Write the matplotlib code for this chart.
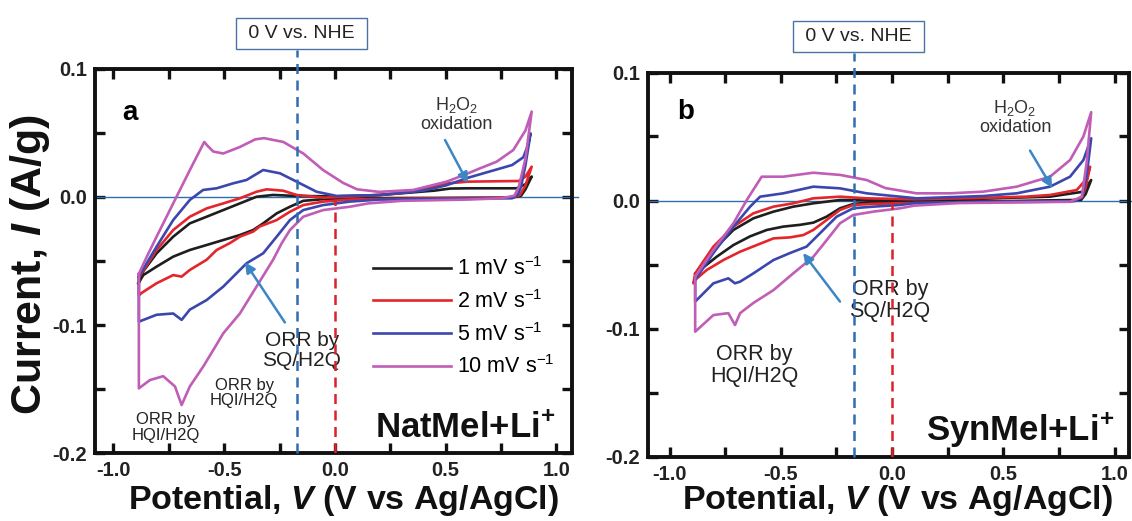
import matplotlib.pyplot as plt
import matplotlib.transforms as mtransforms
from matplotlib.ticker import MultipleLocator

plt.rcParams['font.family'] = ['Liberation Sans', 'DejaVu Sans']
plt.rcParams['mathtext.fontset'] = 'custom'
plt.rcParams['mathtext.rm'] = 'Liberation Sans'
plt.rcParams['mathtext.it'] = 'Liberation Sans:italic'
plt.rcParams['mathtext.bf'] = 'Liberation Sans:bold'
plt.rcParams['mathtext.bfit'] = 'Liberation Sans:italic:bold'

RATES = ['1', '2', '5', '10']
COLORS = ['#1e1e1e', '#e3262b', '#3b47ad', '#c05db6']
NHE_V = -0.172          # 0 V vs NHE on the Ag/AgCl scale
ZERO_COLOR = '#2e6fb0'
RED_DASH = '#d8232a'
ARROW = '#3d86c6'

# ---- panel a : NatMel + Li+  (V vs Ag/AgCl, A/g) ----
nat_1_fwd = [(-0.887, -0.0674), (-0.865, -0.058), (-0.805, -0.044), (-0.73, -0.031), (-0.655, -0.0206),
             (-0.579, -0.0154), (-0.504, -0.0102), (-0.429, -0.005), (-0.354, 0.0002), (-0.279, 0.0016),
             (-0.173, 0.0008), (0.0, 0.0005), (0.2, 0.0015), (0.45, 0.005), (0.52, 0.0066), (0.6, 0.0068),
             (0.82, 0.0068), (0.86, 0.010), (0.888, 0.016)]
nat_1_rev = [(0.888, 0.016), (0.86, 0.006), (0.84, 0.001), (0.8, -0.0005), (0.4, -0.0008), (0.068, -0.001),
             (-0.053, -0.0017), (-0.143, -0.003), (-0.203, -0.0076), (-0.263, -0.0128), (-0.324, -0.0206),
             (-0.369, -0.0258), (-0.429, -0.0297), (-0.504, -0.0336), (-0.579, -0.0375), (-0.655, -0.0414),
             (-0.73, -0.0466), (-0.805, -0.0544), (-0.865, -0.061), (-0.887, -0.0674)]
nat_2_fwd = [(-0.885, -0.063), (-0.805, -0.0414), (-0.73, -0.0258), (-0.655, -0.0154), (-0.579, -0.0089),
             (-0.504, -0.005), (-0.429, -0.001), (-0.354, 0.0041), (-0.308, 0.006), (-0.233, 0.0049),
             (-0.173, 0.0016), (-0.053, -0.0005), (0.1, 0.0005), (0.3, 0.003), (0.4, 0.006), (0.5, 0.0105),
             (0.6, 0.012), (0.83, 0.0125), (0.86, 0.016), (0.888, 0.0237)]
nat_2_rev = [(0.888, 0.0237), (0.86, 0.009), (0.835, 0.0016), (0.8, -0.0005), (0.5, -0.001), (0.2, -0.0015),
             (0.068, -0.002), (-0.053, -0.0036), (-0.143, -0.0063), (-0.203, -0.0115), (-0.263, -0.018),
             (-0.339, -0.023), (-0.369, -0.027), (-0.429, -0.031), (-0.474, -0.036), (-0.534, -0.0414),
             (-0.579, -0.049), (-0.655, -0.057), (-0.692, -0.0622), (-0.73, -0.061), (-0.805, -0.0674),
             (-0.873, -0.075), (-0.885, -0.077), (-0.885, -0.063)]
nat_5_fwd = [(-0.885, -0.062), (-0.805, -0.0388), (-0.73, -0.018), (-0.655, -0.0023), (-0.595, 0.0055),
             (-0.534, 0.0068), (-0.459, 0.0107), (-0.399, 0.0133), (-0.324, 0.0211), (-0.248, 0.0185),
             (-0.173, 0.012), (-0.083, 0.0041), (0.008, 0.0008), (0.2, 0.0015), (0.4, 0.005), (0.5, 0.009),
             (0.6, 0.015), (0.7, 0.020), (0.8, 0.025), (0.85, 0.031), (0.87, 0.040), (0.883, 0.0497)]
nat_5_rev = [(0.883, 0.0497), (0.86, 0.025), (0.84, 0.008), (0.826, 0.002), (0.8, -0.001), (0.5, -0.0015),
             (0.2, -0.002), (0.068, -0.0036), (-0.053, -0.0063), (-0.143, -0.0102), (-0.203, -0.018),
             (-0.263, -0.031), (-0.324, -0.044), (-0.399, -0.0518), (-0.444, -0.0596), (-0.504, -0.070),
             (-0.579, -0.0805), (-0.655, -0.088), (-0.692, -0.096), (-0.73, -0.091), (-0.805, -0.092),
             (-0.885, -0.0974), (-0.885, -0.062)]
nat_10_fwd = [(-0.885, -0.060), (-0.85, -0.047), (-0.805, -0.031), (-0.73, -0.005), (-0.655, 0.021),
              (-0.59, 0.043), (-0.575, 0.040), (-0.549, 0.0355), (-0.504, 0.034), (-0.43, 0.039),
              (-0.36, 0.045), (-0.32, 0.046), (-0.233, 0.043), (-0.143, 0.034), (-0.053, 0.021),
              (0.037, 0.011), (0.1, 0.006), (0.2, 0.004), (0.354, 0.0055), (0.504, 0.012), (0.58, 0.017),
              (0.655, 0.0224), (0.73, 0.0276), (0.805, 0.0367), (0.86, 0.052), (0.888, 0.0667)]
nat_10_rev = [(0.888, 0.0667), (0.86, 0.030), (0.83, 0.008), (0.81, 0.001), (0.75, -0.001), (0.6, -0.002),
              (0.3, -0.003), (0.15, -0.005), (0.068, -0.0076), (-0.053, -0.0102), (-0.143, -0.0154),
              (-0.203, -0.0258), (-0.24, -0.036), (-0.279, -0.049), (-0.354, -0.070), (-0.429, -0.091),
              (-0.504, -0.1065), (-0.549, -0.1195), (-0.595, -0.1326), (-0.655, -0.148), (-0.692, -0.1625),
              (-0.722, -0.148), (-0.775, -0.140), (-0.835, -0.143), (-0.885, -0.1495), (-0.885, -0.060)]

# ---- panel b : SynMel + Li+ ----
syn_1_fwd = [(-0.885, -0.061), (-0.803, -0.0387), (-0.713, -0.023), (-0.623, -0.0139), (-0.533, -0.0087),
             (-0.444, -0.0048), (-0.354, -0.0022), (-0.234, 0.0004), (-0.114, 0.0004), (0.3, 0.001),
             (0.71, 0.003), (0.86, 0.0069), (0.895, 0.016)]
syn_1_rev = [(0.895, 0.016), (0.87, 0.005), (0.85, 0.0005), (0.5, -0.0005), (0.036, -0.0006),
             (-0.084, -0.0013), (-0.174, -0.0027), (-0.234, -0.0061), (-0.294, -0.0126), (-0.354, -0.0173),
             (-0.413, -0.019), (-0.489, -0.0204), (-0.563, -0.023), (-0.638, -0.028), (-0.713, -0.0348),
             (-0.788, -0.0439), (-0.863, -0.0543), (-0.885, -0.061)]
syn_2_fwd = [(-0.885, -0.057), (-0.803, -0.036), (-0.713, -0.0204), (-0.623, -0.010), (-0.533, -0.0048),
             (-0.444, -0.0022), (-0.354, 0.0017), (-0.234, 0.003), (-0.114, 0.0017), (0.1, 0.001),
             (0.4, 0.002), (0.6, 0.003), (0.71, 0.0043), (0.83, 0.0082), (0.87, 0.016), (0.89, 0.0264)]
syn_2_rev = [(0.89, 0.0264), (0.87, 0.010), (0.85, 0.002), (0.8, -0.0008), (0.3, -0.0015), (0.036, -0.0022),
             (-0.084, -0.0026), (-0.174, -0.0035), (-0.234, -0.0074), (-0.294, -0.0152), (-0.354, -0.023),
             (-0.399, -0.027), (-0.458, -0.0288), (-0.533, -0.0296), (-0.608, -0.0348), (-0.683, -0.040),
             (-0.758, -0.0465), (-0.833, -0.0543), (-0.885, -0.062), (-0.893, -0.0647), (-0.885, -0.057)]
syn_5_fwd = [(-0.885, -0.062), (-0.803, -0.041), (-0.713, -0.0204), (-0.638, -0.0048), (-0.593, 0.003),
             (-0.489, 0.0056), (-0.354, 0.0108), (-0.234, 0.0095), (-0.114, 0.0056), (-0.04, 0.0043),
             (0.11, 0.0017), (0.41, 0.0035), (0.56, 0.0056), (0.71, 0.0108), (0.80, 0.0186), (0.86, 0.0316),
             (0.895, 0.0486)]
syn_5_rev = [(0.895, 0.0486), (0.875, 0.020), (0.855, 0.003), (0.82, -0.0005), (0.4, -0.001), (0.1, -0.002),
             (0.036, -0.0035), (-0.084, -0.0048), (-0.174, -0.006), (-0.249, -0.0126), (-0.309, -0.023),
             (-0.384, -0.036), (-0.458, -0.041), (-0.533, -0.0465), (-0.623, -0.0569), (-0.683, -0.0634),
             (-0.706, -0.0647), (-0.736, -0.0608), (-0.803, -0.0647), (-0.885, -0.079), (-0.885, -0.062)]
syn_10_fwd = [(-0.885, -0.0595), (-0.803, -0.0387), (-0.713, -0.0178), (-0.653, 0.0004), (-0.586, 0.0186),
              (-0.489, 0.0186), (-0.354, 0.0217), (-0.234, 0.020), (-0.114, 0.016), (-0.03, 0.0097),
              (0.11, 0.0056), (0.26, 0.0056), (0.41, 0.0069), (0.56, 0.0108), (0.71, 0.0186), (0.80, 0.0316),
              (0.86, 0.050), (0.895, 0.069)]
syn_10_rev = [(0.895, 0.069), (0.875, 0.030), (0.853, 0.003), (0.8, -0.001), (0.3, -0.002), (0.1, -0.004),
              (0.036, -0.0061), (-0.084, -0.0087), (-0.174, -0.0113), (-0.234, -0.0178), (-0.294, -0.031),
              (-0.354, -0.044), (-0.444, -0.0569), (-0.533, -0.070), (-0.623, -0.080), (-0.683, -0.088),
              (-0.706, -0.0973), (-0.736, -0.088), (-0.803, -0.0895), (-0.885, -0.1025), (-0.885, -0.0595)]

NAT_CURVES = [(nat_1_fwd, nat_1_rev), (nat_2_fwd, nat_2_rev), (nat_5_fwd, nat_5_rev), (nat_10_fwd, nat_10_rev)]
SYN_CURVES = [(syn_1_fwd, syn_1_rev), (syn_2_fwd, syn_2_rev), (syn_5_fwd, syn_5_rev), (syn_10_fwd, syn_10_rev)]


def plot_loop(ax, fwd, rev, color):
    pts = fwd + rev
    v = [p[0] for p in pts]
    i = [p[1] for p in pts]
    return ax.plot(v, i, color=color, lw=1.9, solid_joinstyle='round', zorder=3)[0]


def style_axes(ax, xlim, label_xy):
    ax.set_xlim(*xlim)
    ax.set_ylim(-0.2, 0.1)
    ax.xaxis.set_major_locator(MultipleLocator(0.5))
    ax.xaxis.set_minor_locator(MultipleLocator(0.25))
    ax.yaxis.set_major_locator(MultipleLocator(0.1))
    ax.yaxis.set_minor_locator(MultipleLocator(0.05))
    ax.tick_params(which='both', direction='in', top=True, right=True, width=2.4, length=7,
                   colors='#111111', labelcolor='#222222', labelsize=14.5, pad=6)
    for s in ax.spines.values():
        s.set_linewidth(2.8)
        s.set_color('#111111')
    ax.xaxis.set_major_formatter(plt.FuncFormatter(lambda x, _: f'{x:.1f}'))
    ax.yaxis.set_major_formatter(plt.FuncFormatter(lambda y, _: f'{y:.1f}'))
    for lab in ax.get_xticklabels() + ax.get_yticklabels():
        lab.set_fontweight('bold')
    ax.set_xlabel(r'Potential, $\mathbfit{V}$ (V vs Ag/AgCl)', fontsize=24.5, fontweight='bold',
                  color='#111111')
    ax.xaxis.set_label_coords(*label_xy)


def draw_guides(ax):
    ax.axhline(0, xmin=0, xmax=1.012, color=ZERO_COLOR, lw=1.0, clip_on=False, zorder=2)
    trans = mtransforms.blended_transform_factory(ax.transData, ax.transAxes)
    ax.plot([NHE_V, NHE_V], [0, 1.05], transform=trans, color=ZERO_COLOR, lw=1.8,
            ls=(0, (4, 2.6)), clip_on=False, zorder=4)
    ax.plot([0, 0], [-0.2, -0.0015], color=RED_DASH, lw=1.8, ls=(0, (4, 2.6)), zorder=4)
    ax.text(NHE_V + 0.02, 1.093, ' 0 V vs. NHE ', transform=trans, ha='center', va='center',
            fontsize=14, color='#222222',
            bbox=dict(boxstyle='square,pad=0.36', fc='white', ec='#4a72a8', lw=1.0))


def arrow(ax, tail, tip):
    ax.annotate('', xy=tip, xytext=tail,
                arrowprops=dict(arrowstyle='-|>', color=ARROW, lw=1.8, mutation_scale=15,
                                shrinkA=0, shrinkB=0), zorder=5)


fig = plt.figure(figsize=(11.32, 5.21), dpi=100)
ax_a = fig.add_axes([95 / 1132, 1 - 453 / 521, 477 / 1132, 384 / 521])
ax_b = fig.add_axes([648 / 1132, 1 - 456.5 / 521, 481 / 1132, 384 / 521])

# panel a
lines = [plot_loop(ax_a, f, r, c) for (f, r), c in zip(NAT_CURVES, COLORS)]
style_axes(ax_a, (-1.083, 1.07), (0.522, -0.078))
draw_guides(ax_a)
ax_a.set_ylabel(r'Current, $\mathbfit{I}$ (A/g)', fontsize=31, fontweight='bold', color='#111111')
ax_a.yaxis.set_label_coords(-0.09, 0.49)
ax_a.text(-0.925, 0.066, 'a', fontsize=20, fontweight='bold', ha='center', va='center')
ax_a.text(0.55, 0.065, 'H$_2$O$_2$\noxidation', fontsize=13, ha='center', va='center',
          color='#333333', linespacing=1.05)
arrow(ax_a, (0.497, 0.0445), (0.60, 0.011))
ax_a.text(-0.149, -0.120, 'ORR by\nSQ/H2Q', fontsize=15, ha='center', va='center', color='#222222',
          linespacing=1.05)
arrow(ax_a, (-0.226, -0.098), (-0.406, -0.051))
ax_a.text(-0.41, -0.153, 'ORR by\nHQI/H2Q', fontsize=12, ha='center', va='center', color='#222222',
          linespacing=1.05)
ax_a.text(-0.763, -0.180, 'ORR by\nHQI/H2Q', fontsize=12, ha='center', va='center', color='#222222',
          linespacing=1.05)
ax_a.text(0.587, -0.180, 'NatMel+Li$^{\\mathbf{+}}$', fontsize=25, fontweight='bold', ha='center',
          va='center', color='#111111')
ax_a.legend(lines, [r'%s mV s$^{\mathregular{-1}}$' % r for r in RATES], loc='upper left',
            bbox_to_anchor=(0.583, 0.51), frameon=False, fontsize=15.5, handlelength=3.6,
            handletextpad=0.3, labelspacing=0.46, borderpad=0, borderaxespad=0)

# panel b
for (f, r), c in zip(SYN_CURVES, COLORS):
    plot_loop(ax_b, f, r, c)
style_axes(ax_b, (-1.097, 1.065), (0.518, -0.07))
draw_guides(ax_b)
ax_b.text(-0.926, 0.069, 'b', fontsize=20, fontweight='bold', ha='center', va='center')
ax_b.text(0.553, 0.065, 'H$_2$O$_2$\noxidation', fontsize=13, ha='center', va='center',
          color='#333333', linespacing=1.05)
arrow(ax_b, (0.62, 0.039), (0.72, 0.0098))
ax_b.text(-0.01, -0.078, 'ORR by\nSQ/H2Q', fontsize=15.5, ha='center', va='center', color='#222222',
          linespacing=1.05)
arrow(ax_b, (-0.234, -0.079), (-0.40, -0.041))
ax_b.text(-0.62, -0.129, 'ORR by\nHQI/H2Q', fontsize=15.5, ha='center', va='center', color='#222222',
          linespacing=1.05)
ax_b.text(0.575, -0.179, 'SynMel+Li$^{\\mathbf{+}}$', fontsize=25, fontweight='bold', ha='center',
          va='center', color='#111111')

fig.savefig('out.png', dpi=100, facecolor='white')
